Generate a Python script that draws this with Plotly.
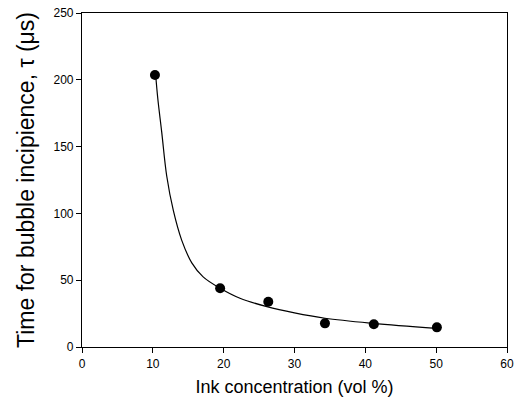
import plotly.graph_objects as go

# measured data points
conc = [10.3, 19.5, 26.3, 34.3, 41.2, 50.1]
tau = [203.6, 44.0, 33.9, 17.7, 17.0, 14.7]

# fitted curve
curve_x = [10.4, 10.7, 11.25, 11.96, 12.9, 14.07, 15.5, 17.1, 19.5, 22.3, 26.1, 30.0, 34.3, 41.1, 50.0]
curve_y = [203.6, 186.0, 161.0, 128.0, 102.0, 80.0, 63.0, 52.5, 44.0, 36.5, 30.2, 25.5, 21.5, 17.7, 14.0]

x_ticks = [0, 10, 20, 30, 40, 50, 60]
y_ticks = [0, 50, 100, 150, 200, 250]

fig = go.Figure()
fig.add_trace(go.Scatter(x=curve_x, y=curve_y, mode="lines",
                         line=dict(color="black", width=1.2, shape="spline", smoothing=1.0),
                         showlegend=False, hoverinfo="skip"))
fig.add_trace(go.Scatter(x=conc, y=tau, mode="markers", marker=dict(color="black", size=10),
                         showlegend=False))

axis_common = dict(showgrid=False, zeroline=False, showline=True, linecolor="black", linewidth=1.2,
                   mirror=True, ticks="outside", ticklen=5, tickcolor="black", tickwidth=1,
                   automargin=False,
                   tickfont=dict(family="Liberation Sans, Arial", size=12, color="black"))

fig.update_xaxes(range=[0, 60], tickvals=x_ticks, ticktext=[str(v) for v in x_ticks],
                 title=dict(text="Ink concentration (vol %)", font=dict(family="Liberation Sans, Arial", size=18, color="black"), standoff=10),
                 **axis_common)
fig.update_yaxes(range=[0, 250], tickvals=y_ticks, ticktext=[str(v) for v in y_ticks],
                 title=dict(text="Time for bubble incipience, τ (μs)", font=dict(family="Liberation Sans, Arial", size=23, color="black"), standoff=12),
                 **axis_common)

fig.update_layout(width=515, height=407, margin=dict(l=82, r=8, t=13, b=60),
                  plot_bgcolor="white", paper_bgcolor="white")

fig.write_html("out.html")
